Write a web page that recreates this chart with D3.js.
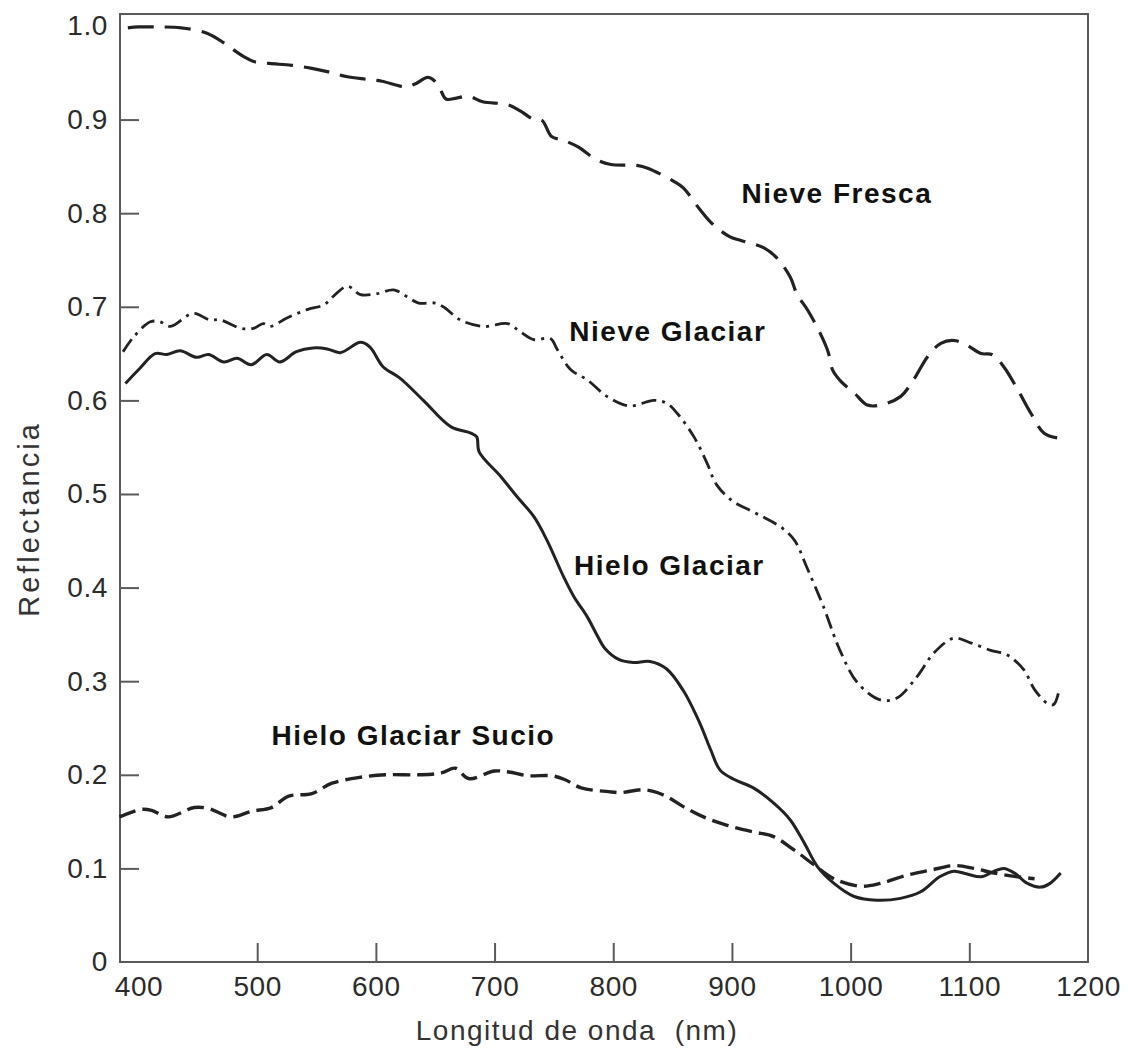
<!DOCTYPE html>
<html>
<head>
<meta charset="utf-8">
<script src="https://cdn.jsdelivr.net/npm/d3@7"></script>
<style>
  html, body { margin: 0; padding: 0; background: #fff; }
  svg { display: block; }
  .tick-label { font-family: "Liberation Sans", Arial, sans-serif; font-size: 28px; fill: #2b2b2b; }
  .axis-title { font-family: "Liberation Sans", Arial, sans-serif; font-size: 28px; fill: #333; }
  .series-label { font-family: "Liberation Sans", Arial, sans-serif; font-size: 28px; font-weight: bold; fill: #111; letter-spacing: 1.5px; }
</style>
</head>
<body>
<svg id="chart" width="1129" height="1051"></svg>
<script>
// Spectral reflectance curves: [wavelength (nm), reflectance]
const nieveFresca = [
  [391,0.998],[400,0.999],[415,0.999],[436,0.998],[456,0.993],[467,0.986],[475,0.979],[489,0.967],
  [497,0.962],[510,0.960],[529,0.958],[545,0.955],[560,0.951],[575,0.946],[592,0.943],[605,0.941],
  [625,0.935],[633,0.938],[644,0.945],[652,0.938],[659,0.922],[668,0.923],[678,0.925],[690,0.919],
  [711,0.916],[722,0.909],[733,0.900],[740,0.899],[748,0.882],[758,0.878],[770,0.871],[786,0.857],
  [798,0.852],[820,0.851],[829,0.848],[851,0.834],[859,0.827],[873,0.804],[884,0.788],[898,0.775],
  [907,0.771],[927,0.763],[938,0.752],[949,0.732],[955,0.713],[964,0.696],[975,0.670],[981,0.652],
  [985,0.632],[992,0.620],[1003,0.608],[1014,0.595],[1025,0.595],[1042,0.604],[1053,0.622],[1065,0.647],
  [1076,0.661],[1087,0.664],[1098,0.659],[1110,0.650],[1119,0.649],[1129,0.636],[1141,0.611],[1152,0.586],
  [1163,0.565],[1174,0.560]
];

const nieveGlaciar = [
  [387,0.652],[396,0.668],[410,0.684],[418,0.684],[427,0.679],[446,0.693],[460,0.686],[469,0.686],
  [486,0.677],[497,0.677],[505,0.682],[511,0.679],[525,0.688],[542,0.697],[556,0.702],[564,0.711],
  [576,0.722],[587,0.713],[601,0.714],[615,0.718],[626,0.711],[636,0.704],[650,0.704],[658,0.699],
  [671,0.686],[691,0.679],[711,0.682],[722,0.673],[733,0.665],[747,0.666],[753,0.654],[764,0.633],
  [778,0.622],[795,0.604],[814,0.594],[834,0.600],[845,0.597],[854,0.586],[868,0.561],[879,0.533],
  [887,0.510],[900,0.493],[916,0.482],[930,0.473],[943,0.463],[953,0.450],[963,0.422],[977,0.380],
  [991,0.333],[1006,0.298],[1025,0.280],[1039,0.282],[1056,0.305],[1070,0.330],[1087,0.346],[1101,0.341],
  [1118,0.333],[1132,0.328],[1146,0.312],[1155,0.291],[1166,0.276],[1171,0.275],[1175,0.287]
];

const hieloGlaciar = [
  [389,0.618],[401,0.634],[414,0.650],[424,0.649],[435,0.653],[449,0.646],[459,0.649],[472,0.641],
  [483,0.645],[495,0.638],[508,0.649],[519,0.641],[533,0.652],[547,0.656],[559,0.655],[570,0.651],
  [587,0.662],[595,0.657],[606,0.636],[620,0.624],[640,0.600],[663,0.572],[680,0.565],[685,0.561],
  [687,0.545],[705,0.519],[719,0.497],[733,0.476],[744,0.451],[758,0.412],[767,0.390],[778,0.369],
  [786,0.350],[793,0.335],[805,0.323],[817,0.320],[831,0.321],[845,0.313],[859,0.290],[873,0.255],
  [882,0.227],[890,0.205],[902,0.195],[918,0.186],[935,0.170],[949,0.152],[961,0.127],[972,0.102],
  [986,0.084],[1003,0.070],[1022,0.066],[1042,0.068],[1059,0.075],[1075,0.091],[1087,0.097],[1098,0.094],
  [1110,0.091],[1121,0.097],[1129,0.100],[1138,0.095],[1149,0.084],[1160,0.080],[1168,0.084],[1177,0.095]
];

const hieloGlaciarSucio = [
  [384,0.155],[402,0.163],[411,0.162],[425,0.155],[447,0.165],[459,0.164],[478,0.155],[495,0.161],
  [512,0.165],[526,0.177],[546,0.180],[563,0.191],[585,0.197],[608,0.200],[636,0.200],[655,0.202],
  [667,0.207],[678,0.196],[700,0.204],[712,0.203],[728,0.199],[748,0.199],[759,0.195],[773,0.186],
  [796,0.182],[806,0.181],[826,0.184],[843,0.178],[859,0.166],[876,0.155],[896,0.146],[918,0.139],
  [935,0.134],[952,0.120],[969,0.104],[986,0.089],[1008,0.081],[1025,0.084],[1048,0.093],[1067,0.098],
  [1087,0.103],[1104,0.100],[1121,0.095],[1141,0.091],[1155,0.089]
];

// Axis ticks
const xLabelTicks = [400, 500, 600, 700, 800, 900, 1000, 1100, 1200];
const xMarkTicks = [500, 600, 700, 800, 900, 1000, 1100];
const yLabelTicks = [0, 0.1, 0.2, 0.3, 0.4, 0.5, 0.6, 0.7, 0.8, 0.9, 1.0];
const yMarkTicks = [0.1, 0.2, 0.3, 0.4, 0.5, 0.6, 0.7, 0.8, 0.9];

// Curve labels: [text, wavelength, reflectance] anchoring the text start/baseline
const labels = [
  ["Nieve Fresca", 908, 0.811],
  ["Nieve Glaciar", 763, 0.663],
  ["Hielo Glaciar", 767, 0.413],
  ["Hielo Glaciar Sucio", 512, 0.232]
];

const margin = { left: 120, top: 14, right: 1088, bottom: 962 };
const svg = d3.select("#chart");

const x = d3.scaleLinear().domain([384.4, 1200]).range([margin.left, margin.right]);
const y = d3.scaleLinear().domain([0, 1.0128]).range([margin.bottom, margin.top]);

// Frame
svg.append("rect")
  .attr("x", margin.left).attr("y", margin.top)
  .attr("width", margin.right - margin.left).attr("height", margin.bottom - margin.top)
  .attr("fill", "none").attr("stroke", "#5a5a5a").attr("stroke-width", 2);

// Inward tick marks
const tickLen = 19;
const xMarks = svg.append("g").attr("transform", `translate(0,${margin.bottom})`)
  .call(d3.axisBottom(x).tickValues(xMarkTicks).tickSize(-tickLen).tickFormat(""));
const yMarks = svg.append("g").attr("transform", `translate(${margin.left},0)`)
  .call(d3.axisLeft(y).tickValues(yMarkTicks).tickSize(-tickLen).tickFormat(""));
[xMarks, yMarks].forEach(g => {
  g.select(".domain").remove();
  g.selectAll(".tick line").attr("stroke", "#5a5a5a").attr("stroke-width", 2);
});

// Tick labels
const xLab = svg.append("g").attr("transform", `translate(0,${margin.bottom})`)
  .call(d3.axisBottom(x).tickValues(xLabelTicks).tickSize(0).tickPadding(14).tickFormat(d3.format("d")));
const yLab = svg.append("g").attr("transform", `translate(${margin.left},0)`)
  .call(d3.axisLeft(y).tickValues(yLabelTicks).tickSize(0).tickPadding(12)
    .tickFormat(d => d === 0 ? "0" : d3.format(".1f")(d)));
[xLab, yLab].forEach(g => {
  g.select(".domain").remove();
  g.attr("font-size", null).attr("font-family", null);
  g.selectAll(".tick text").attr("class", "tick-label").attr("fill", null)
    .style("letter-spacing", "0.6px");
});

// Axis titles
svg.append("text").attr("class", "axis-title")
  .attr("x", 577).attr("y", 1040).attr("text-anchor", "middle")
  .attr("xml:space", "preserve")
  .style("letter-spacing", "1.5px")
  .text("Longitud de onda  (nm)");
svg.append("text").attr("class", "axis-title")
  .attr("transform", "translate(39,519) rotate(-90)").attr("text-anchor", "middle")
  .style("font-size", "29px")
  .style("letter-spacing", "3px")
  .text("Reflectancia");

// Curves
const line = d3.line()
  .x(d => x(d[0]))
  .y(d => y(d[1]))
  .curve(d3.curveCatmullRom.alpha(0.5));

const series = [
  { data: nieveFresca, dash: "26,11", width: 3.2 },
  { data: nieveGlaciar, dash: "15,6,3,6", width: 2.8 },
  { data: hieloGlaciar, dash: null, width: 3.0 },
  { data: hieloGlaciarSucio, dash: "17,7", width: 3.4 }
];

svg.append("g").selectAll("path").data(series).join("path")
  .attr("d", s => line(s.data))
  .attr("fill", "none")
  .attr("stroke", "#222")
  .attr("stroke-width", s => s.width)
  .attr("stroke-linecap", "butt")
  .attr("stroke-linejoin", "round")
  .attr("stroke-dasharray", s => s.dash);

// Curve labels
svg.append("g").selectAll("text").data(labels).join("text")
  .attr("class", "series-label")
  .attr("x", d => x(d[1]))
  .attr("y", d => y(d[2]))
  .text(d => d[0]);
</script>
</body>
</html>
